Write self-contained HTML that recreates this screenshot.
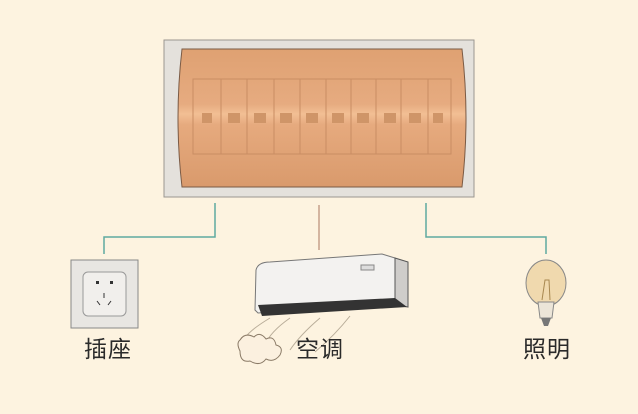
<!DOCTYPE html>
<html><head><meta charset="utf-8"><style>
body{margin:0;width:638px;height:414px;background:#fdf3e0;overflow:hidden;position:relative;font-family:"Liberation Sans","Noto Sans CJK SC",sans-serif}
.t{position:absolute;font-size:23px;color:#2a2a2a;letter-spacing:1px}
</style></head><body>
<svg width="638" height="414" style="position:absolute;left:0;top:0">
<defs><linearGradient id="g" x1="0" y1="0" x2="0" y2="1">
<stop offset="0" stop-color="#dfa172"/><stop offset="0.4" stop-color="#e6ab80"/><stop offset="0.47" stop-color="#f2bf94"/><stop offset="0.55" stop-color="#e6aa7e"/><stop offset="1" stop-color="#d99a6c"/></linearGradient></defs>
<rect x="164" y="40" width="310" height="157" fill="#e4e1dc" stroke="#9a9690"/>
<path d="M182 49 L462 49 Q470 118 462 187 L182 187 Q174 118 182 49Z" fill="url(#g)" stroke="#7a5a44"/>
<g fill="none" stroke="#c98d63" stroke-width="1">
<rect x="193" y="79" width="258" height="75"/>
<line x1="221" y1="79" x2="221" y2="154"/><line x1="247" y1="79" x2="247" y2="154"/><line x1="274" y1="79" x2="274" y2="154"/><line x1="300" y1="79" x2="300" y2="154"/><line x1="326" y1="79" x2="326" y2="154"/><line x1="351" y1="79" x2="351" y2="154"/><line x1="376" y1="79" x2="376" y2="154"/><line x1="401" y1="79" x2="401" y2="154"/><line x1="428" y1="79" x2="428" y2="154"/>
</g>
<g fill="#cf9568">
<rect x="202" y="113" width="10" height="10"/><rect x="228" y="113" width="12" height="10"/><rect x="254" y="113" width="12" height="10"/><rect x="280" y="113" width="12" height="10"/><rect x="306" y="113" width="12" height="10"/><rect x="332" y="113" width="12" height="10"/><rect x="357" y="113" width="12" height="10"/><rect x="384" y="113" width="12" height="10"/><rect x="409" y="113" width="12" height="10"/><rect x="433" y="113" width="10" height="10"/>
</g>
<g fill="none" stroke="#5fa9a0" stroke-width="1.5">
<polyline points="215,203 215,237 104,237 104,254"/>
<polyline points="426,203 426,237 546,237 546,254"/>
</g>
<line x1="319" y1="205" x2="319" y2="250" stroke="#c7a08a" stroke-width="1.5"/>
<rect x="71" y="260" width="67" height="68" fill="#e8e6e2" stroke="#888"/>
<rect x="83" y="272" width="43" height="44" rx="5" fill="#f1efec" stroke="#999"/>
<rect x="96" y="281" width="3" height="3" fill="#333"/><rect x="110" y="281" width="3" height="3" fill="#333"/>
<line x1="104" y1="293" x2="104" y2="298" stroke="#333"/><line x1="97" y1="301" x2="100" y2="305" stroke="#333"/><line x1="111" y1="301" x2="108" y2="305" stroke="#333"/>
<path d="M256 270 Q258 262 270 262 L382 254 L395 258 L395 305 L258 313 L255 310Z" fill="#f3f2f0" stroke="#777"/>
<path d="M395 258 L408 262 L408 307 L395 305Z" fill="#cfcdca" stroke="#555"/>
<path d="M258 305 L395 298 L407 307 L262 316Z" fill="#333"/>
<rect x="361" y="265" width="13" height="5" fill="#ddd" stroke="#888"/>
<g fill="none" stroke="#b9ad99" stroke-width="1"><path d="M270 318 Q250 330 245 338"/><path d="M290 318 Q270 332 265 345"/><path d="M320 318 Q300 335 290 350"/><path d="M350 316 Q335 335 315 352"/></g>
<path d="M240 340 q5 -8 14 -3 q6 -6 12 2 q8 -4 10 6 q8 2 4 10 q-6 8 -14 4 q-6 8 -16 2 q-10 2 -10 -10 q-4 -8 0 -11Z" fill="#fbf0df" stroke="#8a7a66"/>
<ellipse cx="546" cy="283" rx="20" ry="23" fill="#f0d9ae" stroke="#888"/>
<path d="M538 302 L554 302 L552 318 L540 318Z" fill="#ece5d8" stroke="#888"/>
<path d="M541 318 L551 318 L548 326 L544 326Z" fill="#777"/>
<path d="M542 300 L545 280 L549 280 L550 300" fill="none" stroke="#a88850"/>
</svg>
<div class="t" style="left:84px;top:330px">插座</div>
<div class="t" style="left:296px;top:330px">空调</div>
<div class="t" style="left:523px;top:330px">照明</div>
</body></html>
